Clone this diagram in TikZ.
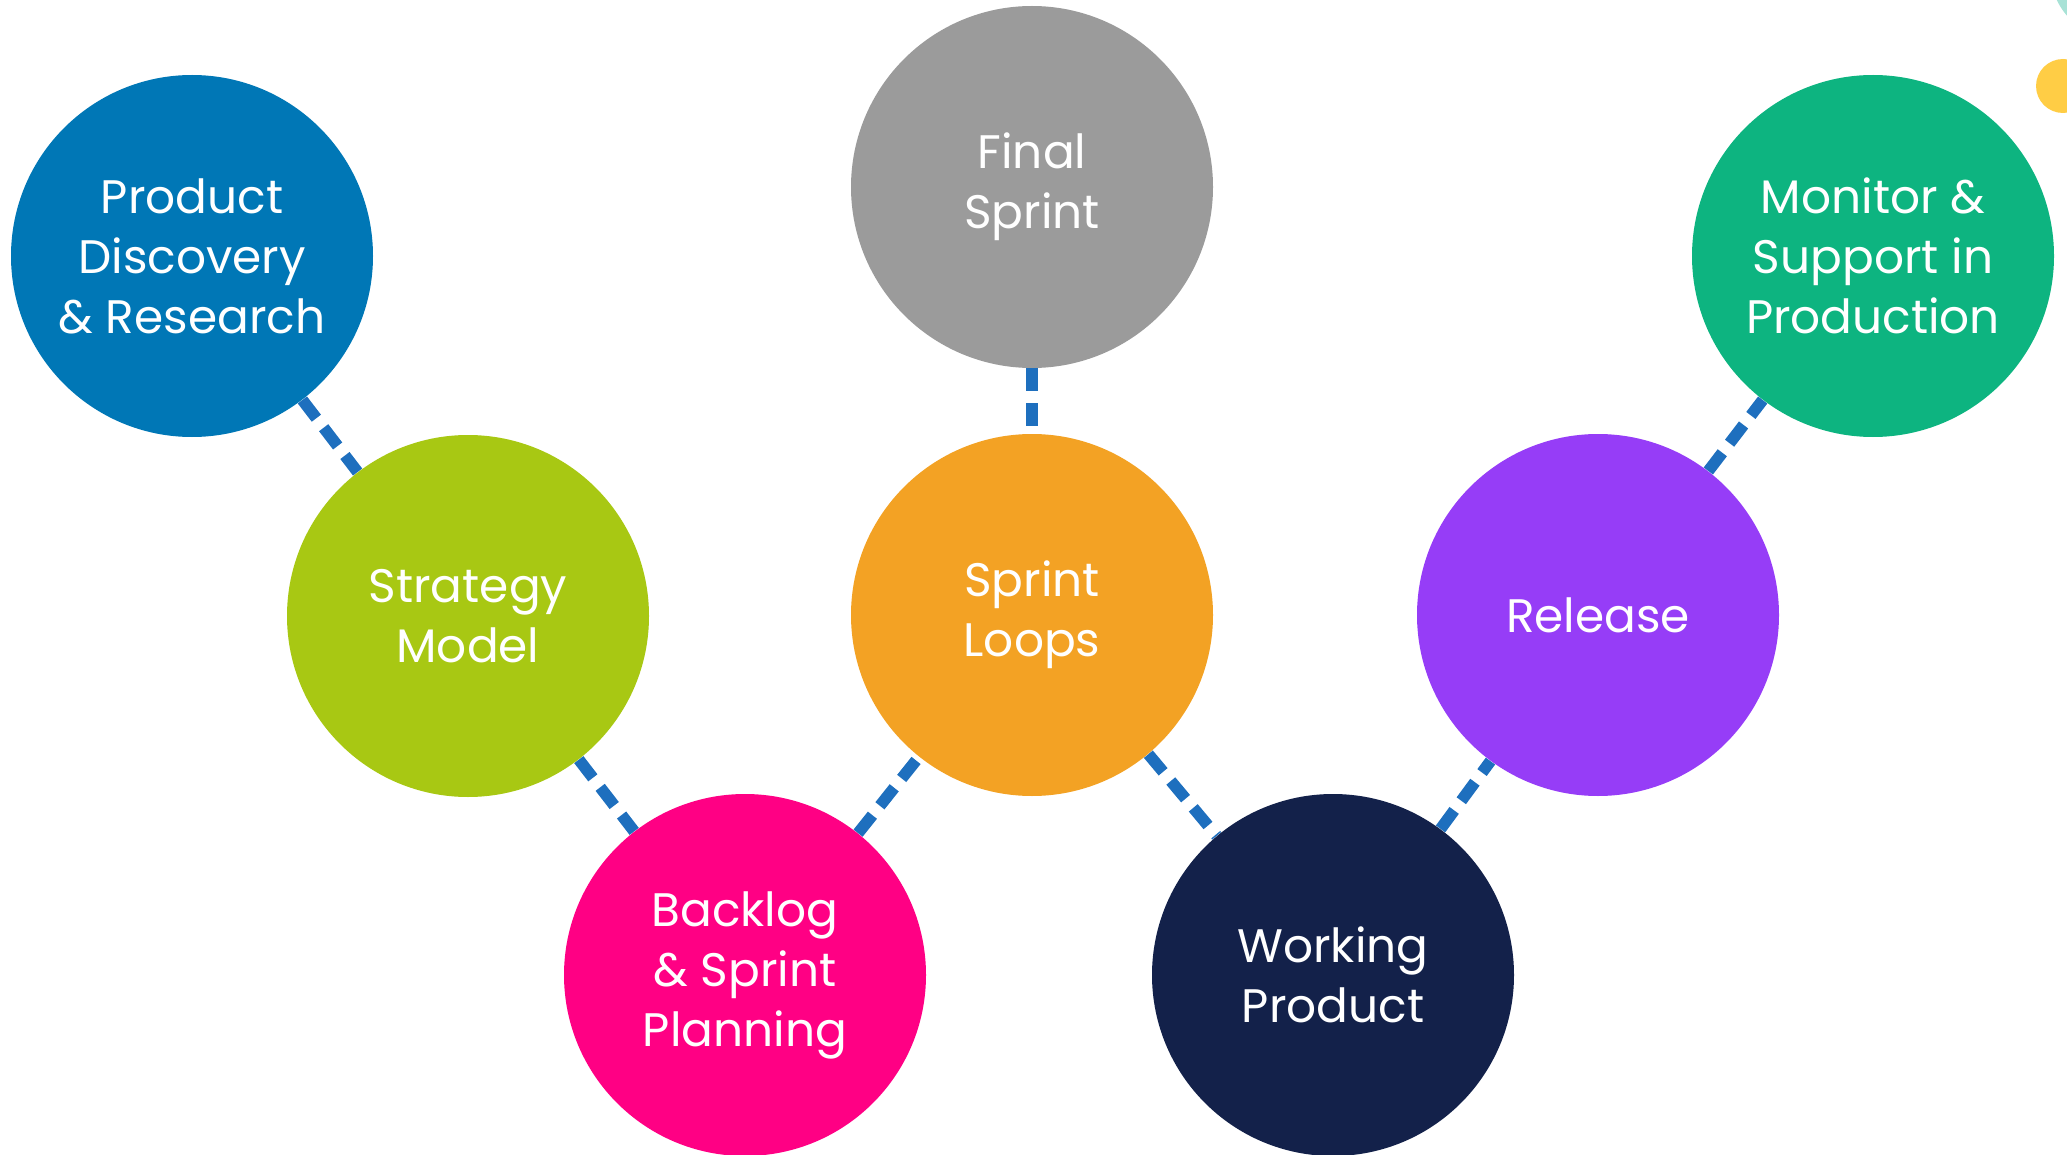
\documentclass[tikz,border=0pt]{standalone}
\usepackage{fontspec}
\setmainfont{Poppins}
\usepackage{xcolor}
\usetikzlibrary{backgrounds}

\definecolor{discblue}{HTML}{0077B6}
\definecolor{stratgreen}{HTML}{A8C813}
\definecolor{backpink}{HTML}{FF0084}
\definecolor{looporange}{HTML}{F3A224}
\definecolor{finalgray}{HTML}{9B9B9B}
\definecolor{worknavy}{HTML}{13214A}
\definecolor{relpurple}{HTML}{963DF7}
\definecolor{montgreen}{HTML}{0DB480}
\definecolor{linkblue}{HTML}{1E6FBE}
\definecolor{sunyellow}{HTML}{FFCD45}
\definecolor{palemint}{HTML}{A8E2D6}

\begin{document}
\begin{tikzpicture}[
    x=0.5pt, y=-0.5pt,
    every node/.style={font=\fontsize{23.5}{30}\selectfont, text=white},
    stage/.style={circle, minimum size=181pt, inner sep=0pt, align=center},
    link/.style={draw=linkblue, line width=5.8pt, dash pattern=on 11.5pt off 6pt},
  ]
  \useasboundingbox (0,0) rectangle (2067,1155);

  % Corner dots
  \fill[palemint] (2120,-30) circle (35pt);
  \fill[sunyellow] (2063,86) circle (13.5pt);

  % Stages
  \node[stage, fill=discblue] (disc) at (192,256) {Product\\Discovery\\\& Research};
  \node[stage, fill=stratgreen] (strat) at (468,616) {Strategy\\Model};
  \node[stage, fill=backpink] (backlog) at (745,975) {Backlog\\\& Sprint\\Planning};
  \node[stage, fill=looporange] (loops) at (1032,615) {Sprint\\Loops};
  \node[stage, fill=finalgray] (final) at (1032,187) {Final\\Sprint};
  \node[stage, fill=worknavy] (working) at (1333,975) {Working\\Product};
  \node[stage, fill=relpurple] (release) at (1598,615) {Release};
  \node[stage, fill=montgreen] (monitor) at (1873,256) {Monitor \&\\Support in\\Production};

  % Dashed links
  \begin{scope}[on background layer]
    \draw[link] (disc) -- (strat);
    \draw[link] (strat) -- (backlog);
    \draw[link] (backlog) -- (loops);
    \draw[link] (final) -- (loops);
    \draw[link] (loops) -- (working);
    \draw[link] (working) -- (release);
    \draw[link] (release) -- (monitor);
  \end{scope}

\end{tikzpicture}
\end{document}
